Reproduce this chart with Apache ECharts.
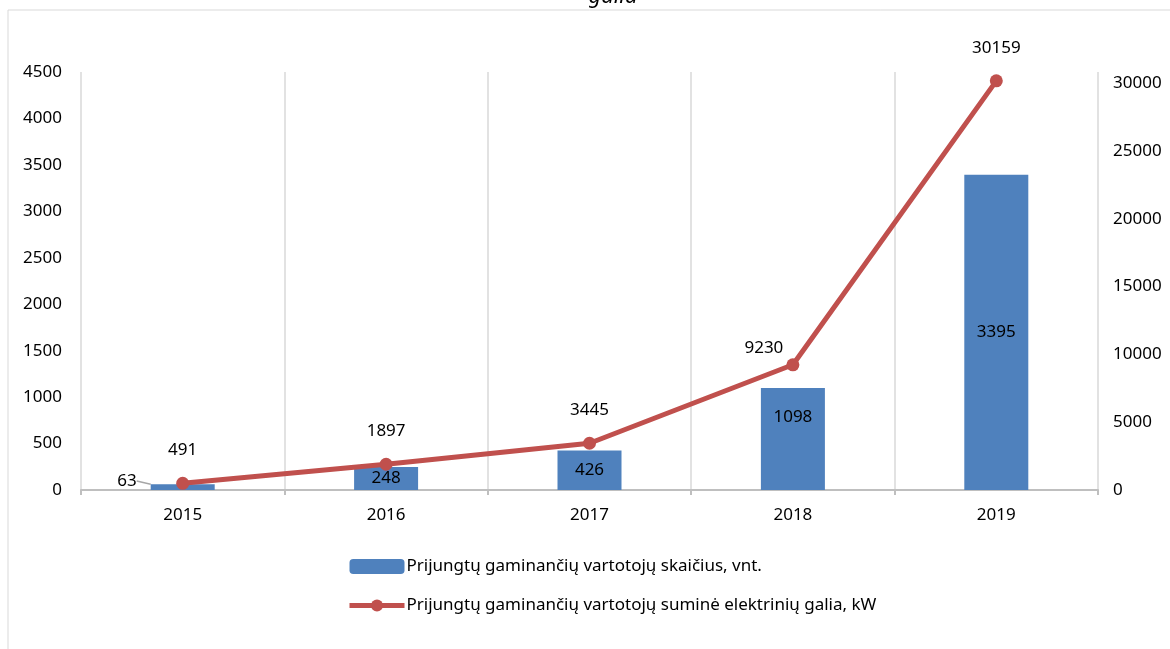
<!DOCTYPE html>
<html><head><meta charset="utf-8">
<script src="https://cdn.jsdelivr.net/npm/echarts@6/dist/echarts.min.js"></script>
<style>html,body{margin:0;padding:0;background:#fff}#c{width:1170px;height:649px}</style>
</head><body><div id="c"></div>
<script>
const categories = ['2015','2016','2017','2018','2019'];
const countValues = [63, 248, 426, 1098, 3395];
const powerValues = [491, 1897, 3445, 9230, 30159];
const seriesNames = ['Prijungtų gaminančių vartotojų skaičius, vnt.', 'Prijungtų gaminančių vartotojų suminė elektrinių galia, kW'];
const titleText = 'galia';

const FONT = 'Noto Sans';
const FS = 17;
const chart = echarts.init(document.getElementById('c'));
const barData = countValues.map((v, i) => {
  const d = {value: v};
  if (i === 0) d.label = {position: 'left', distance: 12};
  if (i === 3) d.label = {position: 'insideTop', distance: 21};
  return d;
});
const lineData = powerValues.map((v, i) => {
  const d = {value: v};
  if (i === 3) d.label = {position: 'top', offset: [-29, 16]};
  return d;
});
chart.setOption({
  animation: false,
  textStyle: {fontFamily: FONT},
  graphic: [
    {type: 'rect', shape: {x: 8, y: 10, width: 1200, height: 700}, style: {fill: 'none', stroke: '#D9D9D9', lineWidth: 1}, z: -1},
    {type: 'text', x: 613, y: -14, style: {text: titleText, font: 'italic 22px "' + FONT + '"', fill: '#000', textAlign: 'center'}}
  ],
  grid: {left: 81, right: 72, top: 72, bottom: 159},
  legend: {
    orient: 'vertical', left: 347, top: 558, padding: 0, itemWidth: 55, itemHeight: 15, itemGap: 22,
    textStyle: {fontSize: FS, color: '#000', fontFamily: FONT, padding: [0, 0, 0, -3]},
    data: [{name: seriesNames[0], icon: 'roundRect'},
           {name: seriesNames[1], lineStyle: {width: 5}}]
  },
  xAxis: {
    type: 'category', data: categories,
    axisLine: {lineStyle: {color: '#BFBFBF', width: 2}},
    axisTick: {show: true, length: 5, lineStyle: {color: '#BFBFBF', width: 2}},
    axisLabel: {color: '#000', fontSize: FS, margin: 17},
    splitLine: {show: true, lineStyle: {color: '#D9D9D9', width: 1.5}}
  },
  yAxis: [
    {type: 'value', min: 0, max: 4500, interval: 500,
     axisLine: {show: false}, axisTick: {show: false}, splitLine: {show: false},
     axisLabel: {color: '#000', fontSize: FS, margin: 19, formatter: v => String(v)}},
    {type: 'value', min: 0, max: 30811, interval: 5000,
     axisLine: {show: false}, axisTick: {show: false}, splitLine: {show: false},
     axisLabel: {color: '#000', fontSize: FS, margin: 15, showMaxLabel: false,
       formatter: v => (v % 5000 === 0 ? String(v) : '')}}
  ],
  series: [
    {name: seriesNames[0], type: 'bar', yAxisIndex: 0, data: barData, barWidth: 64,
     itemStyle: {color: '#4F81BD'},
     label: {show: true, position: 'inside', color: '#000', fontSize: FS},
     labelLine: {show: true, lineStyle: {color: '#A6A6A6', width: 1.5}},
     labelLayout: p => (p.dataIndex === 0 ? {dx: -2, dy: -6} : null)},
    {name: seriesNames[1], type: 'line', yAxisIndex: 1, data: lineData,
     lineStyle: {color: '#C0504D', width: 5}, itemStyle: {color: '#C0504D'},
     symbol: 'circle', symbolSize: 13, z: 5,
     label: {show: true, position: 'top', distance: 18, color: '#000', fontSize: FS}}
  ]
});
</script></body></html>
